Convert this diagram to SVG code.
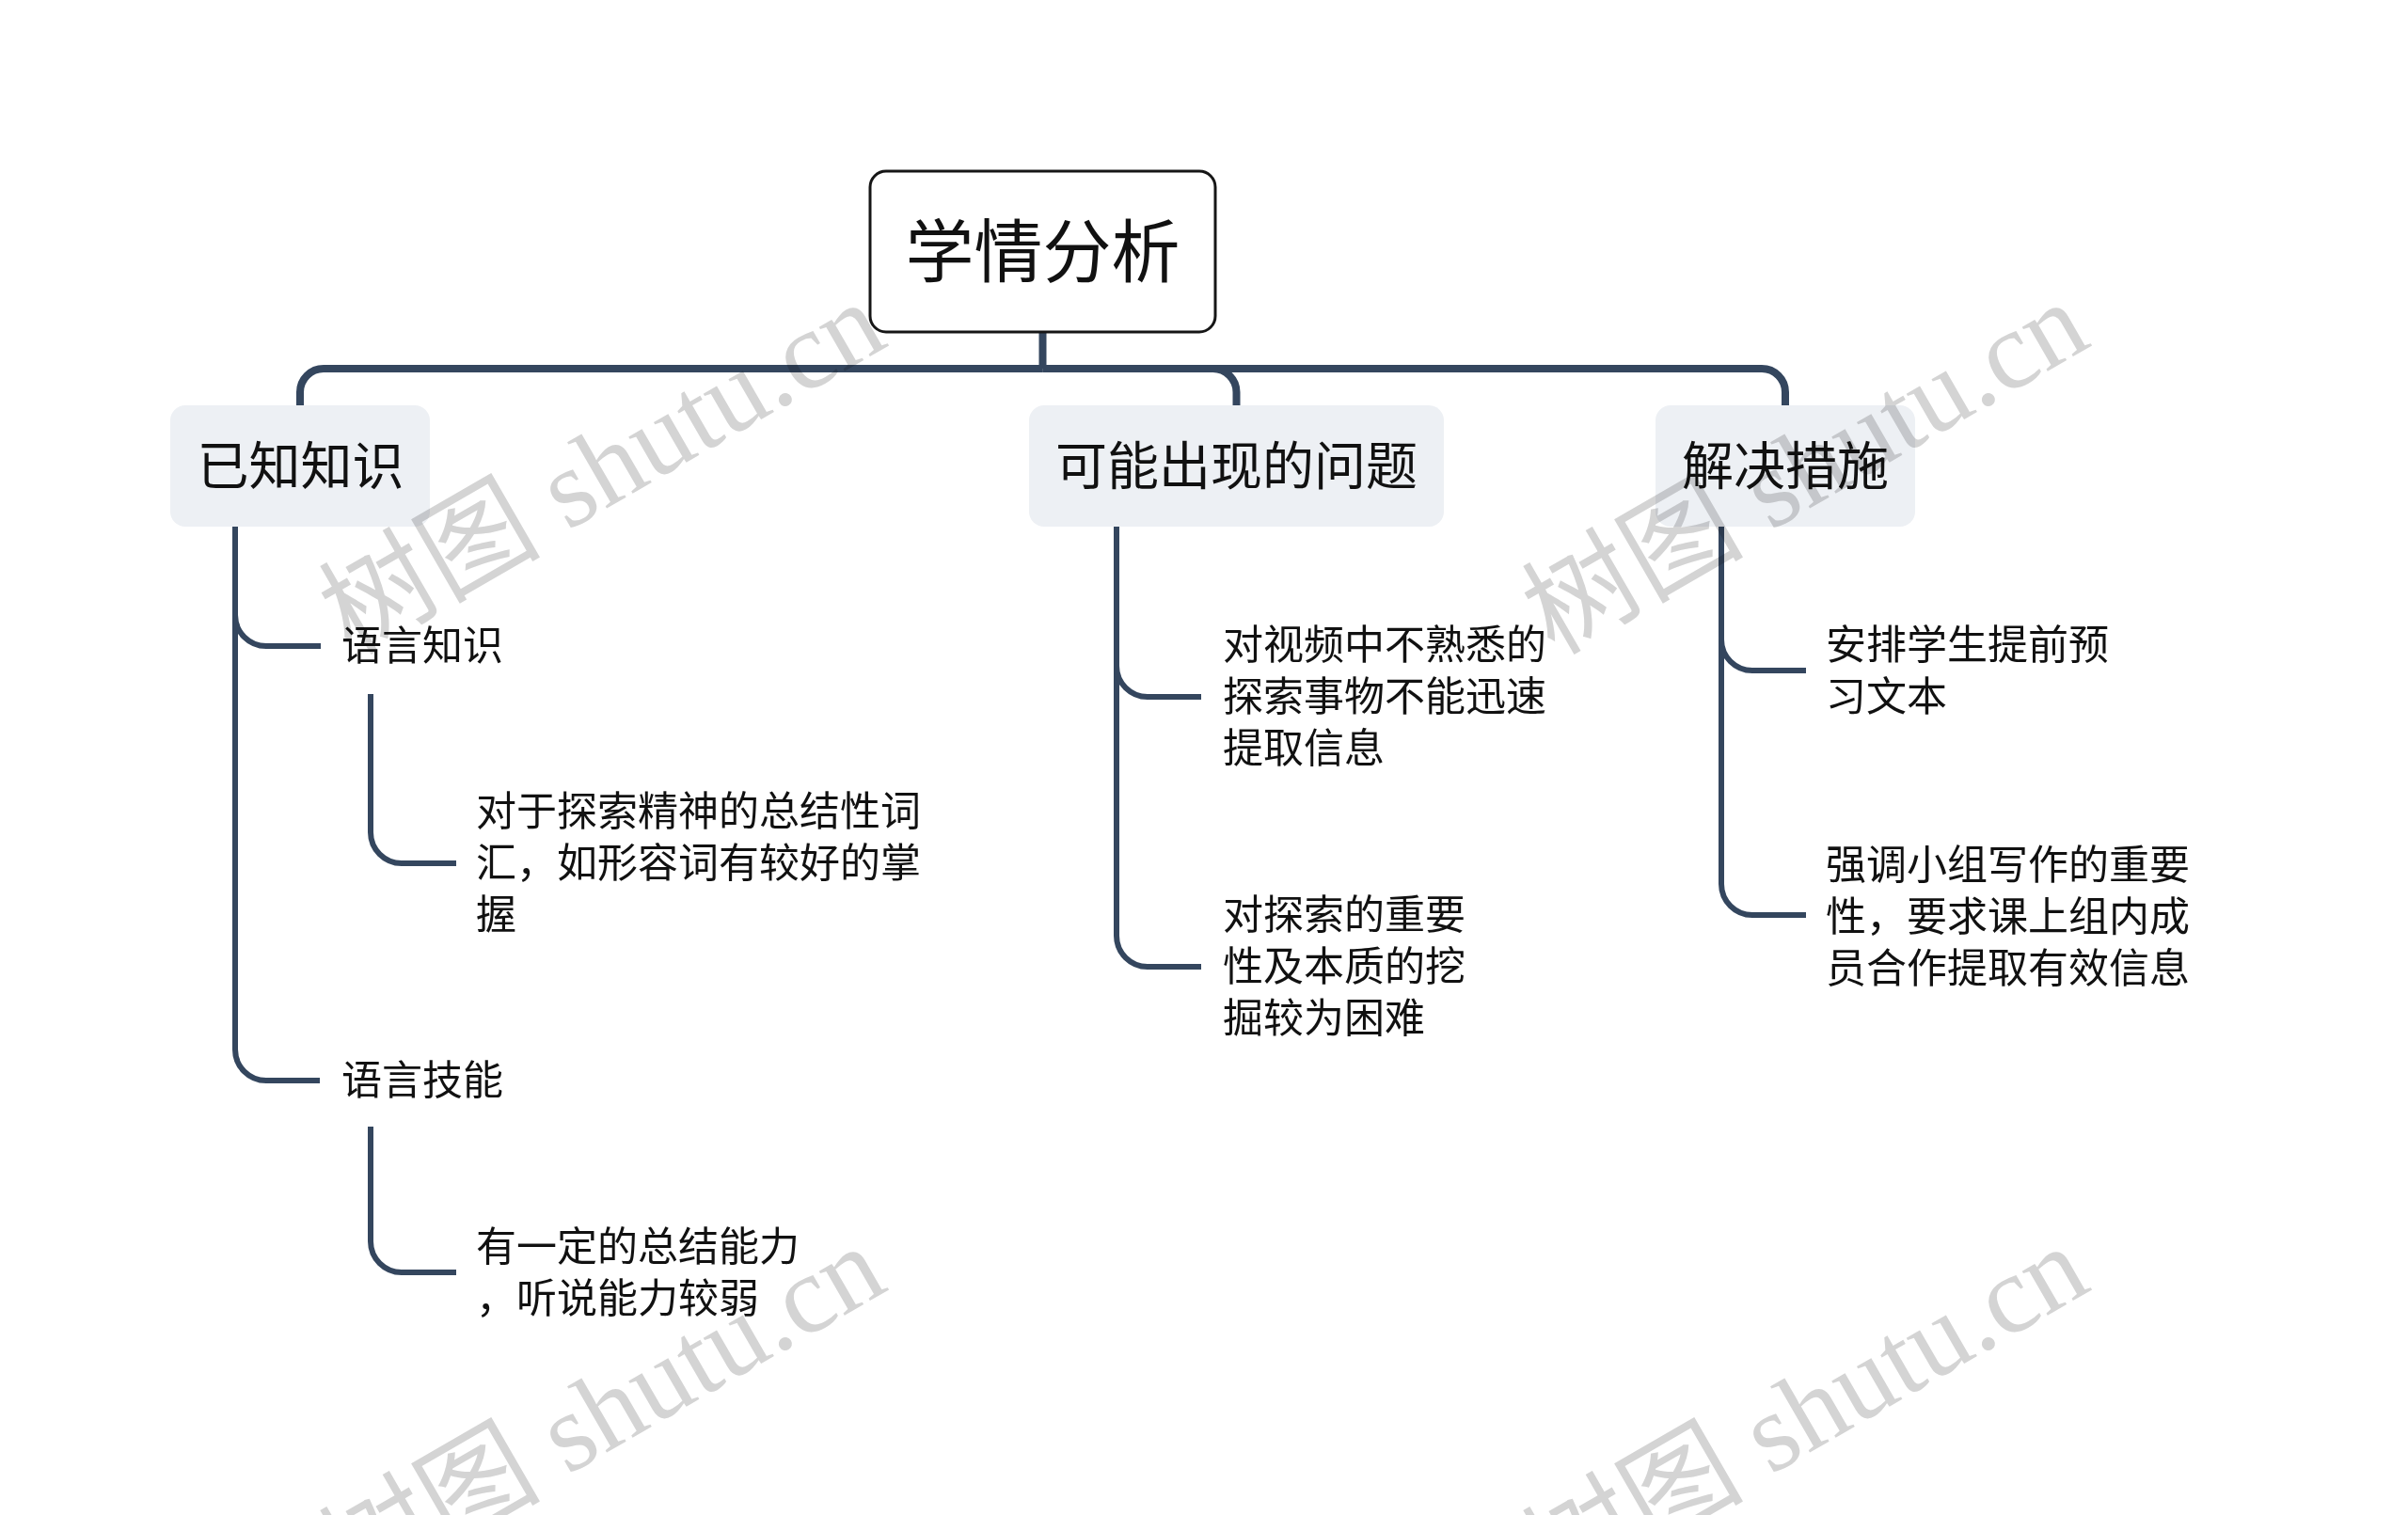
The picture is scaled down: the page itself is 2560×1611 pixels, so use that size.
<svg xmlns="http://www.w3.org/2000/svg" width="2560" height="1611" viewBox="0 0 2560 1611">
<style>
.t{font-family:"Noto Sans CJK SC","Noto Sans",sans-serif;fill:#111;}
.c{font-size:43px;}
.b{font-size:55px;text-anchor:middle;}
.r{font-size:73px;text-anchor:middle;}
.main{fill:none;stroke:#34465e;stroke-width:8;}
.sub{fill:none;stroke:#34465e;stroke-width:6;}
.box{fill:#edf0f4;}
.wm{font-family:"Liberation Serif","Noto Sans CJK SC",serif;font-size:118px;fill:#d4d4d4;text-anchor:middle;mix-blend-mode:multiply;}
</style>
<rect width="2560" height="1611" fill="#ffffff"/>
<g id="connectors">
<path class="main" d="M1108.5,353 V392"/>
<path class="main" d="M1108.5,392 H344 A25,25 0 0 0 319,417 V432"/>
<path class="main" d="M1108.5,392 H1289.5 A25,25 0 0 1 1314.5,417 V432"/>
<path class="main" d="M1108.5,392 H1873 A25,25 0 0 1 1898,417 V432"/>
<path class="sub" d="M250,559 V1116 A33,33 0 0 0 283,1149 H340"/>
<path class="sub" d="M250,654 A33,33 0 0 0 283,687 H341"/>
<path class="sub" d="M394,738 V885 A33,33 0 0 0 427,918 H485"/>
<path class="sub" d="M394,1198 V1320 A33,33 0 0 0 427,1353 H485"/>
<path class="sub" d="M1187,559 V995 A33,33 0 0 0 1220,1028 H1277"/>
<path class="sub" d="M1187,708 A33,33 0 0 0 1220,741 H1277"/>
<path class="sub" d="M1830,559 V940 A33,33 0 0 0 1863,973 H1920"/>
<path class="sub" d="M1830,680 A33,33 0 0 0 1863,713 H1920"/>
</g>
<g id="root">
<rect x="925" y="182" width="367" height="171" rx="17" fill="#ffffff" stroke="#161616" stroke-width="3"/>
<text class="t r" x="1108.5" y="294">学情分析</text>
</g>
<g id="n-known">
<rect class="box" x="181" y="431" width="276" height="129" rx="16"/>
<text class="t b" x="319.5" y="515">已知知识</text>
</g>
<g id="n-problems">
<rect class="box" x="1094" y="431" width="441" height="129" rx="16"/>
<text class="t b" x="1314.5" y="515">可能出现的问题</text>
</g>
<g id="n-solutions">
<rect class="box" x="1760" y="431" width="276" height="129" rx="16"/>
<text class="t b" x="1898" y="515">解决措施</text>
</g>
<g id="n-lang-knowledge">
<text class="t c" x="363" y="702">语言知识</text>
</g>
<g id="n-lang-knowledge-detail">
<text class="t c" x="506" y="878">对于探索精神的总结性词</text>
<text class="t c" x="506" y="933">汇，如形容词有较好的掌</text>
<text class="t c" x="506" y="988">握</text>
</g>
<g id="n-lang-skill">
<text class="t c" x="363" y="1164">语言技能</text>
</g>
<g id="n-lang-skill-detail">
<text class="t c" x="506" y="1341">有一定的总结能力</text>
<text class="t c" x="506" y="1396">，听说能力较弱</text>
</g>
<g id="n-problem-1">
<text class="t c" x="1300" y="701">对视频中不熟悉的</text>
<text class="t c" x="1300" y="756">探索事物不能迅速</text>
<text class="t c" x="1300" y="811">提取信息</text>
</g>
<g id="n-problem-2">
<text class="t c" x="1300" y="988">对探索的重要</text>
<text class="t c" x="1300" y="1043">性及本质的挖</text>
<text class="t c" x="1300" y="1098">掘较为困难</text>
</g>
<g id="n-solution-1">
<text class="t c" x="1941" y="701">安排学生提前预</text>
<text class="t c" x="1941" y="756">习文本</text>
</g>
<g id="n-solution-2">
<text class="t c" x="1941" y="935">强调小组写作的重要</text>
<text class="t c" x="1941" y="990">性，要求课上组内成</text>
<text class="t c" x="1941" y="1045">员合作提取有效信息</text>
</g>
<g id="watermarks">
<text class="wm" transform="translate(660,532) rotate(-30)">树图 shutu.cn</text>
<text class="wm" transform="translate(1939,532) rotate(-30)">树图 shutu.cn</text>
<text class="wm" transform="translate(660,1536) rotate(-30)">树图 shutu.cn</text>
<text class="wm" transform="translate(1939,1536) rotate(-30)">树图 shutu.cn</text>
</g>
</svg>
